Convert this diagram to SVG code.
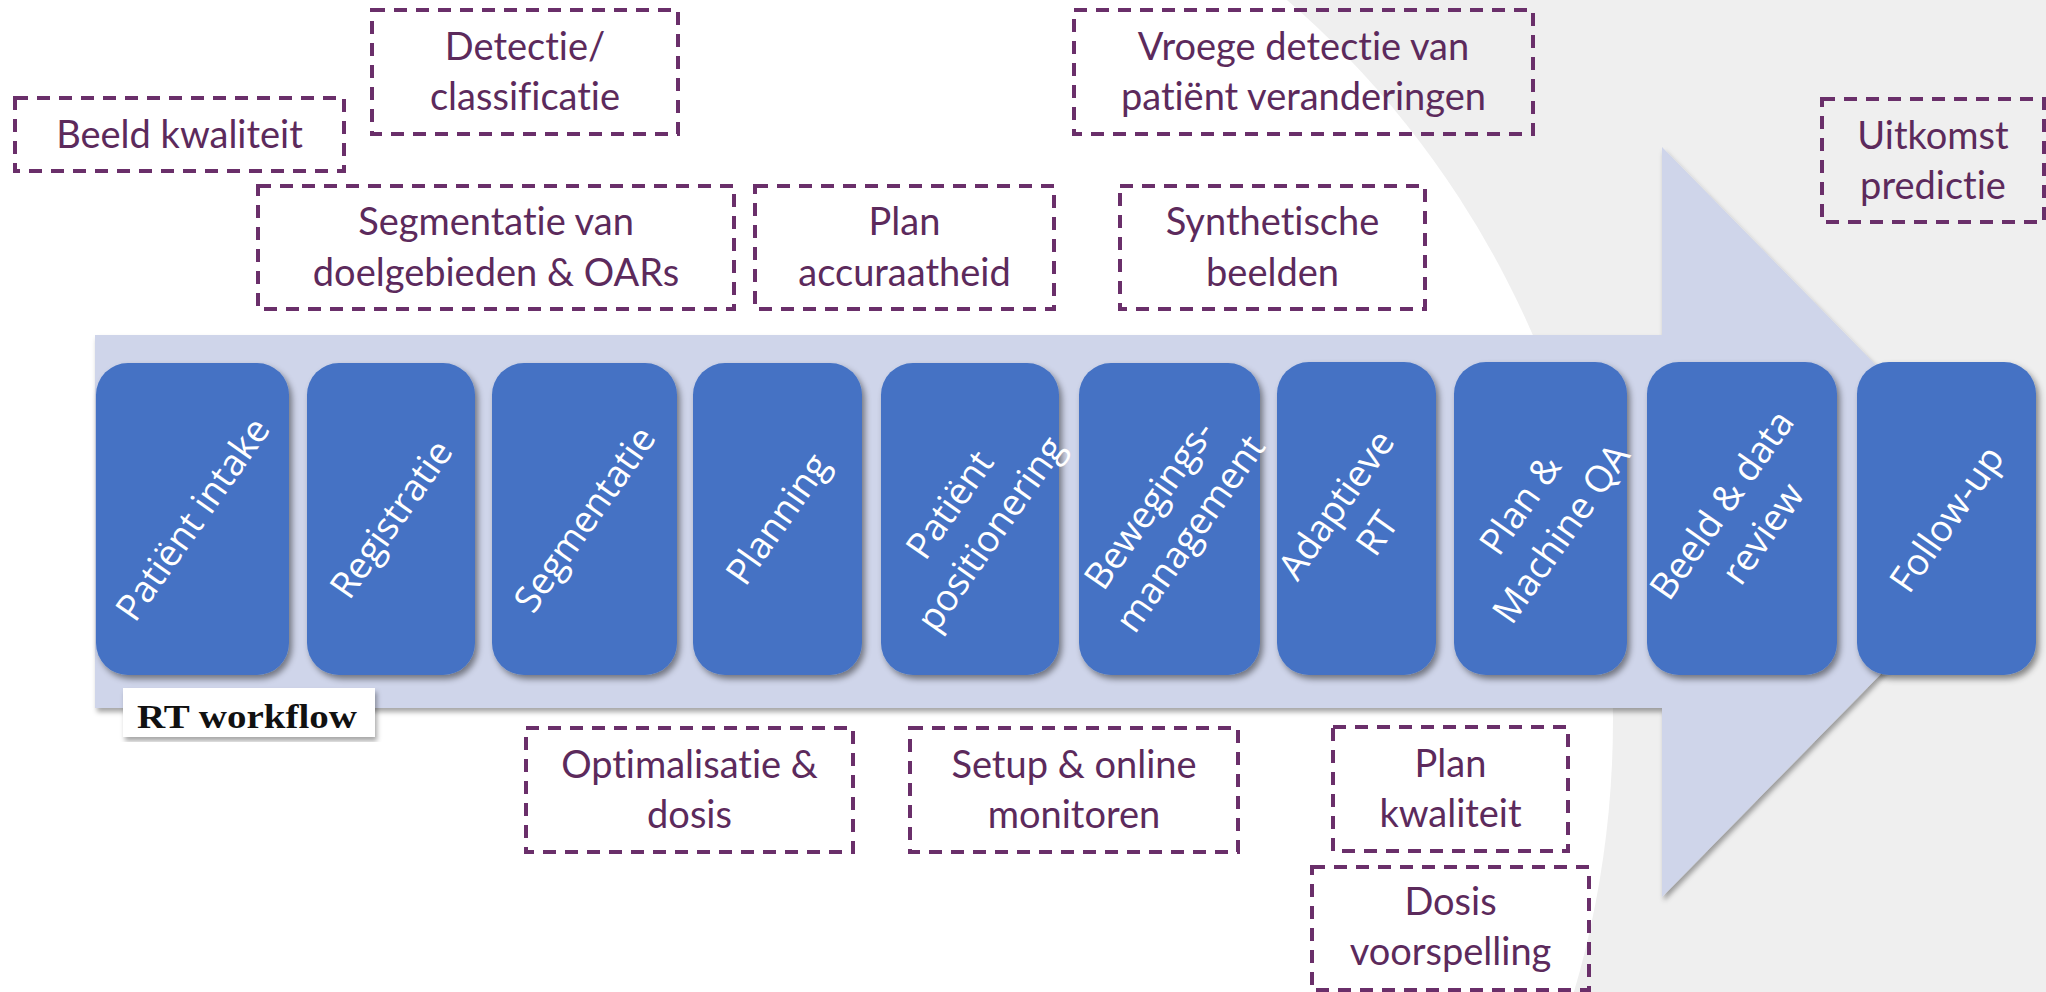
<svg xmlns="http://www.w3.org/2000/svg" width="2046" height="992" viewBox="0 0 2046 992">
<defs>
<filter id="sh" x="-10%" y="-10%" width="130%" height="130%">
<feDropShadow dx="3" dy="4" stdDeviation="3" flood-color="#000" flood-opacity="0.45"/>
</filter>
<filter id="ash" x="-5%" y="-5%" width="110%" height="115%">
<feDropShadow dx="2" dy="4" stdDeviation="2.5" flood-color="#000" flood-opacity="0.35"/>
</filter>
<style>
text{font-variant-ligatures:none;font-feature-settings:"liga" 0,"clig" 0,"dlig" 0}
.step{fill:#4472c4;filter:url(#sh)}
.stxt{font-family:"Open Sans","Noto Sans",sans-serif;font-size:37px;fill:#ffffff;text-anchor:middle}
.dbox{fill:none;stroke:#6a2f6a;stroke-width:4;stroke-dasharray:13 9}
.dtxt{font-family:Lato,"Liberation Sans",sans-serif;font-size:38px;fill:#5c2a5c;text-anchor:middle}
</style>
</defs>
<rect x="0" y="0" width="2046" height="992" fill="#efefef"/>
<rect x="0" y="0" width="700" height="992" fill="#ffffff"/>
<ellipse cx="700" cy="720" rx="913" ry="940" fill="#ffffff"/>

<g id="arrow">
<path d="M95,335 L1662,335 L1662,147 L2030,522 L1662,897 L1662,708 L95,708 Z" fill="#cfd5ea" filter="url(#ash)"/>
</g>

<g id="rt-workflow-label">
<rect x="123" y="688" width="252" height="49" fill="#ffffff" filter="url(#ash)"/>
<text x="137" y="728" font-family="'Liberation Serif',serif" font-weight="bold" font-size="34" fill="#111" textLength="220" lengthAdjust="spacingAndGlyphs">RT workflow</text>
</g>

<g id="step-patient-intake">
<rect class="step" x="96" y="363" width="193" height="312" rx="32"/>
<text class="stxt" transform="translate(192.5,519) rotate(-55)" y="13">Patiënt intake</text>
</g>
<g id="step-registratie">
<rect class="step" x="307" y="363" width="168" height="312" rx="32"/>
<text class="stxt" transform="translate(391,519) rotate(-55)" y="13">Registratie</text>
</g>
<g id="step-segmentatie">
<rect class="step" x="492" y="363" width="185" height="312" rx="32"/>
<text class="stxt" transform="translate(584.5,519) rotate(-55)" y="13">Segmentatie</text>
</g>
<g id="step-planning">
<rect class="step" x="693" y="363" width="169" height="312" rx="32"/>
<text class="stxt" transform="translate(777.5,519) rotate(-55)" y="13">Planning</text>
</g>
<g id="step-patient-positionering">
<rect class="step" x="881" y="363" width="178" height="312" rx="32"/>
<g transform="translate(970,519) rotate(-55)">
<text class="stxt" y="-12">Patiënt</text>
<text class="stxt" y="38">positionering</text>
</g>
</g>
<g id="step-bewegingsmanagement">
<rect class="step" x="1079" y="363" width="181" height="312" rx="32"/>
<g transform="translate(1169.5,519) rotate(-55)">
<text class="stxt" y="-12">Bewegings-</text>
<text class="stxt" y="38">management</text>
</g>
</g>
<g id="step-adaptieve-rt">
<rect class="step" x="1277" y="362" width="159" height="313" rx="32"/>
<g transform="translate(1356.5,519) rotate(-55)">
<text class="stxt" y="-12">Adaptieve</text>
<text class="stxt" y="38">RT</text>
</g>
</g>
<g id="step-plan-machine-qa">
<rect class="step" x="1454" y="362" width="173" height="313" rx="32"/>
<g transform="translate(1540.5,519) rotate(-55)">
<text class="stxt" y="-12">Plan &amp;</text>
<text class="stxt" y="38">Machine QA</text>
</g>
</g>
<g id="step-beeld-data-review">
<rect class="step" x="1647" y="362" width="190" height="313" rx="32"/>
<g transform="translate(1742,519) rotate(-55)">
<text class="stxt" y="-12">Beeld &amp; data</text>
<text class="stxt" y="38">review</text>
</g>
</g>
<g id="step-follow-up">
<rect class="step" x="1857" y="362" width="179" height="313" rx="32"/>
<text class="stxt" transform="translate(1946.5,519) rotate(-55)" y="13">Follow-up</text>
</g>

<g id="ai-beeld-kwaliteit">
<rect class="dbox" x="15" y="98" width="329" height="73"/>
<text class="dtxt" x="179.5" y="148">Beeld kwaliteit</text>
</g>
<g id="ai-detectie">
<rect class="dbox" x="372" y="10" width="306" height="124"/>
<text class="dtxt" x="525" y="60">Detectie/</text>
<text class="dtxt" x="525" y="110">classificatie</text>
</g>
<g id="ai-segmentatie">
<rect class="dbox" x="258" y="186" width="476" height="123"/>
<text class="dtxt" x="496" y="235">Segmentatie van</text>
<text class="dtxt" x="496" y="286">doelgebieden &amp; OARs</text>
</g>
<g id="ai-plan-accuraatheid">
<rect class="dbox" x="755" y="186" width="299" height="123"/>
<text class="dtxt" x="904.5" y="235">Plan</text>
<text class="dtxt" x="904.5" y="286">accuraatheid</text>
</g>
<g id="ai-vroege-detectie">
<rect class="dbox" x="1074" y="10" width="459" height="124"/>
<text class="dtxt" x="1303.5" y="60">Vroege detectie van</text>
<text class="dtxt" x="1303.5" y="110">patiënt veranderingen</text>
</g>
<g id="ai-synthetische-beelden">
<rect class="dbox" x="1120" y="186" width="305" height="123"/>
<text class="dtxt" x="1272.5" y="235">Synthetische</text>
<text class="dtxt" x="1272.5" y="286">beelden</text>
</g>
<g id="ai-uitkomst-predictie">
<rect class="dbox" x="1822" y="99" width="222" height="123"/>
<text class="dtxt" x="1933" y="149">Uitkomst</text>
<text class="dtxt" x="1933" y="199">predictie</text>
</g>
<g id="ai-optimalisatie">
<rect class="dbox" x="526" y="728" width="327" height="124"/>
<text class="dtxt" x="689.5" y="778">Optimalisatie &amp;</text>
<text class="dtxt" x="689.5" y="828">dosis</text>
</g>
<g id="ai-setup-monitoren">
<rect class="dbox" x="910" y="728" width="328" height="124"/>
<text class="dtxt" x="1074" y="778">Setup &amp; online</text>
<text class="dtxt" x="1074" y="828">monitoren</text>
</g>
<g id="ai-plan-kwaliteit">
<rect class="dbox" x="1333" y="727" width="235" height="124"/>
<text class="dtxt" x="1450.5" y="777">Plan</text>
<text class="dtxt" x="1450.5" y="827">kwaliteit</text>
</g>
<g id="ai-dosis-voorspelling">
<rect class="dbox" x="1312" y="867" width="277" height="123"/>
<text class="dtxt" x="1450.5" y="915">Dosis</text>
<text class="dtxt" x="1450.5" y="965">voorspelling</text>
</g>

<g id="connectors"></g>
</svg>
